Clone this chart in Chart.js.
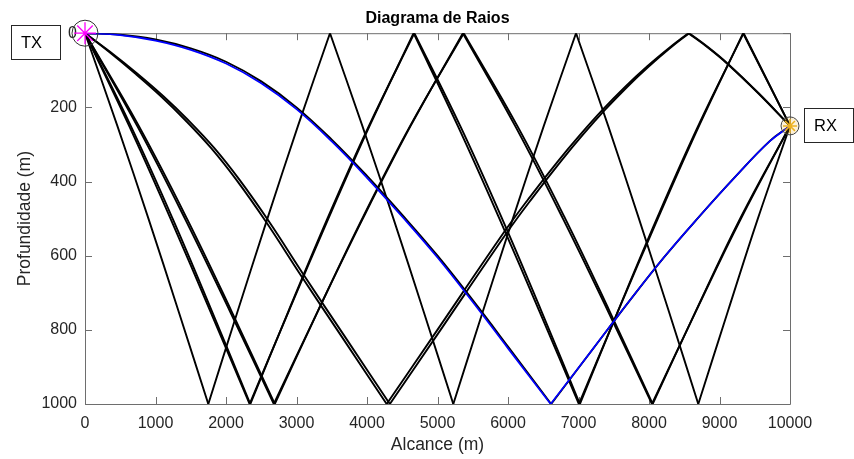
<!DOCTYPE html>
<html>
<head>
<meta charset="utf-8">
<title>Diagrama de Raios</title>
<script src="https://cdn.jsdelivr.net/npm/chart.js@4.4.0/dist/chart.umd.min.js"></script>
<style>
  html, body { margin: 0; padding: 0; background: #fff; }
</style>
</head>
<body>
<canvas id="raios" width="854" height="459"></canvas>
<script>
// pontos [alcance (m), profundidade (m)] de cada raio
const raioA = [[0,0],[459,250],[900,500],[1327,750],[1749,1000],[2165,750],[2587,500],[3021,250],[3475,0],
  [3934,250],[4375,500],[4802,750],[5224,1000],[5644,750],[6069,500],[6508,250],[6965,0],
  [7421,250],[7857,500],[8281,750],[8699,1000],[9119,750],[9544,500],[10000,250]]
const raioB1 = [[0,0],[626,250],[1213,500],[1778,750],[2335,1000],[2889,750],[3452,500],[4037,250],[4660,0],
  [5288,250],[5878,500],[6446,750],[7005,1000],[7560,750],[8125,500],[8710,250],[9335,0],[10000,250]]
const raioB2 = [[0,0],[649,250],[1243,500],[1801,750],[2345,1000],[2885,750],[3438,500],[4027,250],[4672,0],
  [5322,250],[5916,500],[6475,750],[7020,1000],[7558,750],[8111,500],[8698,250],[9342,0],[10000,250]]
const raioC1 = [[0,0],[740,250],[1417,500],[2056,750],[2678,1000],[3301,750],[3941,500],[4619,250],[5360,0],
  [6101,250],[6779,500],[7419,750],[8042,1000],[8665,750],[9305,500],[10000,250]]
const raioC2 = [[0,0],[763,250],[1446,500],[2079,750],[2692,1000],[3302,750],[3932,500],[4612,250],[5372,0],
  [6132,250],[6812,500],[7442,750],[8052,1000],[8662,750],[9292,500],[10000,250]]
const raioD1 = [[0,0],[340,50],[708,108],[1077,170],[1420,234],[1790,310],[2145,395],[2565,508],[3075,657],
  [3672,827],[4279,1000],[4931,819],[5950,535],[6310,442],[6710,345],[7028,273],[7340,207],[7660,145],
  [7972,90],[8285,40],[8558,0],[8830,38],[9102,81],[9550,162],[10000,250]]
const raioD2 = [[0,0],[355,50],[735,108],[1112,170],[1462,234],[1835,310],[2190,395],[2610,508],[3120,657],
  [3717,827],[4324,1000],[4976,819],[5995,535],[6355,442],[6752,345],[7066,273],[7375,207],[7690,145],
  [7996,90],[8300,40],[8570,0],[8840,38],[9110,81],[9555,162],[10000,250]]
const raioDireto = [[0,0],[500,4],[1000,17],[1500,41],[2000,77],[2500,130],[3000,200],[3500,287],[4000,385],
  [4500,490],[5000,600],[5500,720],[6000,845],[6612,1000],[7215,849],[7715,724],[8215,604],[8715,494],
  [9215,389],[9712,291],[10000,250]]
const raioAzul = [[0,0],[500,5],[1000,20],[1500,45],[2000,82],[2500,135],[3000,205],[3500,292],[4000,390],
  [4500,495],[5000,605],[5500,725],[6000,850],[6605,1000],[7210,850],[7710,725],[8210,605],[8710,495],
  [9210,390],[9710,292],[10000,250]]

const transmissor = [0, 0]
const receptor = [10000, 250]

const alcanceTicks = [0, 1000, 2000, 3000, 4000, 5000, 6000, 7000, 8000, 9000, 10000]
const profundidadeTicks = [0, 200, 400, 600, 800, 1000]

const raiosPretos = [raioA, raioB1, raioB2, raioC1, raioC2, raioD1, raioD2, raioDireto]

const fonte = "'Liberation Sans', Arial, sans-serif"
const corTexto = '#262626'
Chart.defaults.font.family = fonte
Chart.defaults.color = corTexto

const pts = arr => arr.map(p => ({ x: p[0], y: p[1] }))

// corta o raio nos pontos de reflexão (superfície e fundo) para manter os cantos vivos
function trechos(arr) {
  const out = []
  let atual = [arr[0]]
  for (let i = 1; i < arr.length; i++) {
    atual.push(arr[i])
    const d = arr[i][1]
    if (i < arr.length - 1 && (d === 0 || d === 1000)) {
      out.push(atual)
      atual = [arr[i]]
    }
  }
  out.push(atual)
  return out
}

function marcador(p, estilo, raio, borda, fundo, largura) {
  return {
    data: pts([p]),
    showLine: false,
    pointStyle: estilo,
    pointRadius: raio,
    pointBorderColor: borda,
    pointBackgroundColor: fundo,
    pointBorderWidth: largura,
    clip: false,
  }
}

function linhas(arr, cor, largura) {
  return trechos(arr).map(t => ({
    data: pts(t),
    showLine: true,
    borderColor: cor,
    borderWidth: largura,
    pointRadius: 0,
    tension: 0.4,
    fill: false,
  }))
}

const datasets = [
  marcador(transmissor, 'star', 11, '#ff00ff', 'transparent', 1.3),
  marcador(transmissor, 'circle', 13, '#333333', 'rgba(255,255,255,0)', 1),
  marcador(receptor, 'star', 7, '#edb120', 'transparent', 1.5),
  marcador(receptor, 'circle', 9, '#444444', 'rgba(237,177,32,0.18)', 1),
  ...linhas(raioAzul, '#0000ff', 1.7),
  ...raiosPretos.flatMap(r => linhas(r, '#000000', 1.9)),
]

// caixa dos eixos com marcas para dentro nos quatro lados
const moldura = {
  id: 'moldura',
  beforeDatasetsDraw(chart) {
    const { ctx, chartArea: a, scales: { x, y } } = chart
    const tam = 7
    ctx.save()
    ctx.strokeStyle = '#6e6e6e'
    ctx.lineWidth = 1
    ctx.beginPath()
    ctx.rect(a.left + 0.5, a.top + 0.5, a.right - a.left, a.bottom - a.top)
    alcanceTicks.forEach(v => {
      const px = Math.round(x.getPixelForValue(v)) + 0.5
      ctx.moveTo(px, a.bottom); ctx.lineTo(px, a.bottom - tam)
      ctx.moveTo(px, a.top); ctx.lineTo(px, a.top + tam)
    })
    profundidadeTicks.forEach(v => {
      const py = Math.round(y.getPixelForValue(v)) + 0.5
      ctx.moveTo(a.left, py); ctx.lineTo(a.left + tam, py)
      ctx.moveTo(a.right, py); ctx.lineTo(a.right - tam, py)
    })
    ctx.stroke()
    ctx.restore()
  },
  afterDraw(chart) {
    const { ctx, scales: { x, y } } = chart
    const tx = { x: x.getPixelForValue(transmissor[0]), y: y.getPixelForValue(transmissor[1]) }
    const rx = { x: x.getPixelForValue(receptor[0]), y: y.getPixelForValue(receptor[1]) }
    const caixas = [
      { texto: 'TX', l: tx.x - 74, t: tx.y - 8 },
      { texto: 'RX', l: rx.x + 14, t: rx.y - 18 },
    ]
    ctx.save()
    ctx.font = '16.5px ' + fonte
    ctx.textBaseline = 'middle'
    ctx.textAlign = 'left'
    caixas.forEach(c => {
      const l = Math.round(c.l) + 0.5
      const t = Math.round(c.t) + 0.5
      ctx.fillStyle = '#ffffff'
      ctx.fillRect(l, t, 49, 34)
      ctx.strokeStyle = '#262626'
      ctx.lineWidth = 1
      ctx.strokeRect(l, t, 49, 34)
      ctx.fillStyle = '#000000'
      ctx.fillText(c.texto, l + 9.5, t + 17.5)
    })
    ctx.restore()
  },
}

new Chart(document.getElementById('raios').getContext('2d'), {
  type: 'scatter',
  data: { datasets },
  options: {
    responsive: false,
    animation: false,
    events: [],
    layout: { padding: { left: 0, right: 64, top: 0, bottom: 0 } },
    plugins: {
      legend: { display: false },
      tooltip: { enabled: false },
      title: {
        display: true,
        text: 'Diagrama de Raios',
        fullSize: false,
        color: '#000000',
        font: { size: 16, weight: 'bold' },
        padding: { top: 9, bottom: 5 },
      },
    },
    scales: {
      x: {
        type: 'linear',
        min: 0,
        max: 10000,
        grid: { display: false, drawTicks: false },
        border: { display: false },
        afterBuildTicks: s => { s.ticks = alcanceTicks.map(v => ({ value: v })) },
        afterFit: s => { s.height = 55 },
        ticks: { padding: 10, font: { size: 16 }, color: corTexto, maxRotation: 0, autoSkip: false, callback: v => String(v) },
        title: { display: true, text: 'Alcance (m)', font: { size: 17.5 }, color: corTexto, padding: { top: 0, bottom: 3.5 } },
      },
      y: {
        type: 'linear',
        min: 0,
        max: 1000,
        reverse: true,
        grid: { display: false, drawTicks: false },
        border: { display: false },
        afterBuildTicks: s => { s.ticks = profundidadeTicks.map(v => ({ value: v })) },
        afterFit: s => { s.width = 85 },
        ticks: { padding: 8, font: { size: 16 }, color: corTexto, autoSkip: false, callback: v => String(v) },
        title: { display: true, text: 'Profundidade (m)', font: { size: 17.5 }, color: corTexto, padding: { top: 15, bottom: 0 } },
      },
    },
  },
  plugins: [moldura],
})
</script>
</body>
</html>
